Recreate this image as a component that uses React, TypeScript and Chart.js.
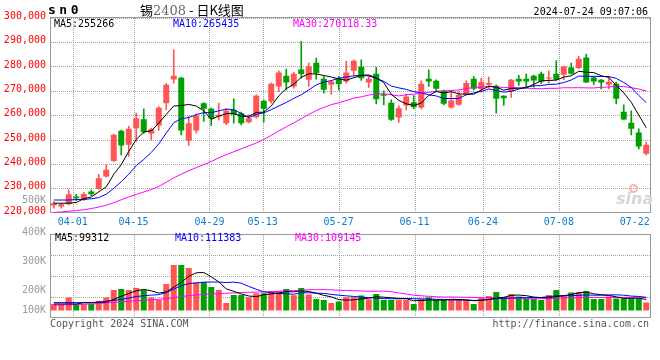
import React, { useEffect, useRef } from 'react';
import { Chart, registerables } from 'chart.js';

Chart.register(...registerables);

// ---------- data ----------
const dates = [
  '03-27', '03-28', '03-29', '04-01', '04-02', '04-03', '04-08', '04-09', '04-10', '04-11',
  '04-12', '04-15', '04-16', '04-17', '04-18', '04-19', '04-22', '04-23', '04-24', '04-25',
  '04-26', '04-29', '04-30', '05-06', '05-07', '05-08', '05-09', '05-10', '05-13', '05-14',
  '05-15', '05-16', '05-17', '05-20', '05-21', '05-22', '05-23', '05-24', '05-27', '05-28',
  '05-29', '05-30', '05-31', '06-03', '06-04', '06-05', '06-06', '06-07', '06-11', '06-12',
  '06-13', '06-14', '06-17', '06-18', '06-19', '06-20', '06-21', '06-24', '06-25', '06-26',
  '06-27', '06-28', '07-01', '07-02', '07-03', '07-04', '07-05', '07-08', '07-09', '07-10',
  '07-11', '07-12', '07-15', '07-16', '07-17', '07-18', '07-19', '07-22', '07-23', '07-24',
];

const tickDates = ['04-01', '04-15', '04-29', '05-13', '05-27', '06-11', '06-24', '07-08', '07-22'];
const gridlessTickDates = ['07-22'];

const opens = [
  222920, 222510, 223470, 226620, 225250, 228670, 229760, 234830, 241260, 253580,
  247830, 254680, 258380, 252490, 255780, 264950, 274670, 275350, 249610, 253720,
  264950, 262620, 259470, 256730, 262210, 260840, 257140, 259200, 265910, 265630,
  271790, 276170, 271790, 278770, 274530, 281510, 274940, 272480, 275210, 273850,
  278230, 279870, 273430, 276990, 268640, 265080, 259060, 263990, 265360, 263170,
  274940, 274120, 270010, 263170, 264260, 268640, 274940, 270700, 272480, 272070,
  267960, 269740, 274940, 274940, 276170, 276990, 275080, 276990, 276580, 279600,
  279320, 283700, 275490, 274530, 272480, 272890, 261390, 256870, 252900, 244140,
];
const highs = [
  224560, 223880, 229350, 227570, 228400, 229350, 235790, 239620, 252210, 253860,
  255500, 260840, 262620, 254680, 263580, 273020, 286850, 275620, 259470, 260570,
  265220, 262890, 264950, 262620, 266730, 261250, 260160, 268370, 266180, 273160,
  278230, 278910, 277540, 290300, 281380, 283430, 275900, 274120, 275900, 282060,
  282600, 282740, 275900, 279600, 270010, 266320, 263850, 268640, 268100, 274120,
  278640, 274530, 270290, 270010, 269740, 274120, 275900, 275210, 275620, 272480,
  268100, 274670, 276310, 276860, 276450, 277680, 278230, 282330, 280140, 281380,
  284110, 285070, 275900, 274670, 275620, 273570, 264260, 261800, 254410, 248930,
];
const lows = [
  221820, 221820, 223190, 224970, 224970, 227030, 229630, 234560, 240990, 243730,
  243040, 249200, 252490, 249890, 253720, 262210, 273160, 251940, 247560, 252630,
  257420, 255780, 258100, 256050, 256730, 256050, 256870, 258790, 257140, 264950,
  269740, 270420, 271110, 275210, 271790, 274800, 269050, 268640, 270420, 273160,
  276310, 274260, 271380, 264670, 264260, 257830, 257010, 262210, 262620, 262620,
  271790, 270010, 264260, 262890, 263990, 268370, 270420, 269470, 271110, 260840,
  263990, 267270, 272200, 271520, 271520, 272890, 273160, 274390, 274530, 276860,
  279050, 273300, 272480, 270830, 270830, 264670, 258100, 251940, 246190, 243730,
];
const closes = [
  223880, 223470, 227570, 225930, 227710, 227570, 234140, 237570, 251940, 247560,
  254410, 258790, 253040, 254270, 263030, 272480, 276170, 253720, 256730, 259730,
  262620, 258790, 260160, 261940, 260160, 256730, 258790, 267960, 262620, 272890,
  277540, 273430, 276990, 276860, 280000, 277270, 270420, 273850, 272750, 277540,
  282330, 275210, 274940, 266590, 267960, 258100, 262890, 267690, 263300, 272890,
  273850, 270830, 264670, 266050, 268370, 273160, 270830, 273570, 273160, 266730,
  267000, 274530, 273850, 273850, 274260, 273850, 275490, 274530, 280000, 276990,
  283160, 273430, 273850, 273430, 273710, 266730, 258240, 254410, 247150, 247830,
];
const volumes = [
  56000, 56000, 109200, 56000, 53200, 56000, 81200, 109200, 173600, 182000,
  173600, 190400, 173600, 109200, 89600, 224000, 383600, 383600, 358400, 235200,
  240800, 198800, 173600, 64400, 131600, 131600, 112000, 145600, 145600, 165200,
  165200, 182000, 128800, 190400, 134400, 98000, 89600, 64400, 75600, 112000,
  112000, 126000, 95200, 140000, 89600, 89600, 89600, 89600, 56000, 98000,
  109200, 89600, 89600, 89600, 89600, 89600, 56000, 106400, 123200, 156800,
  114800, 140000, 117600, 98000, 98000, 89600, 131600, 173600, 131600, 151200,
  156800, 165200, 98000, 98000, 117600, 100800, 100800, 100800, 100800, 67200,
];

// moving-average values before a full window is available
const priceMa5Head = [223900, 223900, 223900, 224200];
const priceMa10Head = [225200, 225200, 225200, 225400, 225500, 225700, 226200, 227600, 230000];
const priceMa30Head = [
  220100, 220300, 220600, 220900, 221200, 221700, 222300, 223100, 224100, 225300,
  226500, 227500, 228500, 229500, 230800, 232500, 234300, 235800, 237200, 238500,
  239700, 241000, 242500, 243800, 245000, 246200, 247400, 248600, 250000,
];
const volMa5Head = [56000, 56000, 56000, 56000];
const volMa10Head = [67200, 67200, 67200, 67200, 67200, 67200, 70000, 78400, 86800];
const volMa30Head = [
  46200, 47600, 49000, 50400, 53200, 56000, 60200, 64400, 68600, 74200,
  78400, 82600, 86800, 91000, 95200, 100800, 109200, 117600, 126000, 131600,
  135800, 140000, 142800, 145600, 148400, 151200, 154000, 155400, 156800,
];

const priceMin = 220000;
const priceMax = 300000;
const priceStep = 10000;
const volMin = -56000;
const volMax = 640000;

const volAxisLabels = ['500K', '400K', '300K', '200K', '100K'];
const priceLegend = ['MA5:255266', 'MA10:265435', 'MA30:270118.33'];
const volLegend = ['MA5:99312', 'MA10:111383', 'MA30:109145'];
const symbolText = 'sn0';
const titleName = '锡';
const titleCode = '2408';
const titleRest = ' - 日K线图';
const stampText = '2024-07-24 09:07:06';
const copyrightText = 'Copyright 2024 SINA.COM';
const urlText = 'http://finance.sina.com.cn';
const watermarkText = 'sina';

// ---------- styles ----------
const UP = '#ff5555';
const DOWN = '#00a000';
const GRID = '#a0a0a0';
const FRAME = '#999999';
const DATE_COLOR = '#0a7ecf';
const MA_COLORS = ['#000000', '#0000ff', '#ff00ff'];
const MONO = "'DejaVu Sans Mono', monospace";

Chart.defaults.font.family = MONO;
Chart.defaults.font.size = 10;

function movingAverage(values: number[], n: number, head: number[]): number[] {
  return values.map((_, i) => {
    if (i < n - 1) return head[i];
    let sum = 0;
    for (let k = i - n + 1; k <= i; k++) sum += values[k];
    return sum / n;
  });
}

export default function App() {
  const mainRef = useRef<HTMLCanvasElement>(null);
  const volRef = useRef<HTMLCanvasElement>(null);

  useEffect(() => {
    const colors = closes.map((c, i) => (c >= opens[i] ? UP : DOWN));
    const tickSet = new Set(tickDates);
    const gridIdx = tickDates
      .filter((d) => !gridlessTickDates.includes(d))
      .map((d) => dates.indexOf(d));

    // dotted grid (1px dots) + solid frame, drawn under the data
    const gridPlugin = {
      id: 'dotGridFrame',
      beforeDatasetsDraw(chart: any) {
        const { ctx, chartArea, scales } = chart;
        const l = Math.floor(chartArea.left);
        const r = Math.floor(chartArea.right);
        const t = Math.floor(chartArea.top);
        const b = Math.floor(chartArea.bottom);
        ctx.save();
        ctx.fillStyle = GRID;
        gridIdx.forEach((idx) => {
          const x = Math.round(scales.xg.getPixelForValue(idx));
          for (let y = t + 1; y < b; y += 2) ctx.fillRect(x, y, 1, 1);
        });
        scales.y.ticks.forEach((tk: any) => {
          const y = Math.round(scales.y.getPixelForValue(tk.value));
          if (y <= t || y >= b) return;
          for (let x = l + 1; x < r; x += 2) ctx.fillRect(x, y, 1, 1);
        });
        ctx.strokeStyle = FRAME;
        ctx.lineWidth = 1;
        ctx.strokeRect(l + 0.5, t + 0.5, r - l, b - t);
        ctx.restore();
      },
    };

    // a category axis without offset puts date i at left + i/(n-1) of the width
    const gridX = (showLabels: boolean) => ({
      type: 'category',
      labels: dates,
      position: 'bottom',
      offset: false,
      afterFit: (s: any) => {
        s.height = showLabels ? 17.3 : 0;
      },
      grid: { display: false, drawTicks: false },
      border: { display: false },
      ticks: {
        display: showLabels,
        autoSkip: false,
        maxRotation: 0,
        minRotation: 0,
        padding: 4,
        color: DATE_COLOR,
        font: { family: MONO, size: 10 },
        callback: (_v: any, idx: number) => (tickSet.has(dates[idx]) ? dates[idx] : ''),
      },
    });

    const lineDs = (data: number[], color: string) => ({
      type: 'line',
      data,
      borderColor: color,
      borderWidth: 1,
      pointRadius: 0,
      tension: 0,
      order: 0,
      xAxisID: 'x',
      yAxisID: 'y',
    });

    const main = new Chart(mainRef.current as HTMLCanvasElement, {
      type: 'bar',
      data: {
        labels: dates,
        datasets: [
          {
            type: 'bar',
            data: lows.map((l, i) => [l, highs[i]]),
            backgroundColor: colors,
            barThickness: 1,
            grouped: false,
            order: 2,
            xAxisID: 'x',
            yAxisID: 'y',
          },
          {
            type: 'bar',
            data: opens.map((o, i) => [Math.min(o, closes[i]), Math.max(o, closes[i])]),
            backgroundColor: colors,
            barPercentage: 0.8,
            categoryPercentage: 1,
            grouped: false,
            minBarLength: 1,
            order: 1,
            xAxisID: 'x',
            yAxisID: 'y',
          },
          lineDs(movingAverage(closes, 5, priceMa5Head), MA_COLORS[0]),
          lineDs(movingAverage(closes, 10, priceMa10Head), MA_COLORS[1]),
          lineDs(movingAverage(closes, 30, priceMa30Head), MA_COLORS[2]),
        ] as any,
      },
      options: {
        responsive: false,
        animation: false,
        layout: { padding: { top: 17.7, right: 10, left: 0, bottom: 0 } },
        plugins: { legend: { display: false }, tooltip: { enabled: false } },
        scales: {
          x: { type: 'category', display: false, offset: true },
          xg: gridX(true) as any,
          y: {
            type: 'linear',
            position: 'left',
            min: priceMin,
            max: priceMax,
            afterFit: (s: any) => {
              s.width = 50;
            },
            ticks: {
              stepSize: priceStep,
              color: '#ff0000',
              padding: 4,
              labelOffset: -1.5,
              font: { family: MONO, size: 10 },
            },
            grid: { display: false, drawTicks: false },
            border: { display: false },
          },
        },
      } as any,
      plugins: [gridPlugin],
    });

    const vol = new Chart(volRef.current as HTMLCanvasElement, {
      type: 'bar',
      data: {
        labels: dates,
        datasets: [
          {
            type: 'bar',
            data: volumes,
            backgroundColor: colors,
            barPercentage: 0.8,
            categoryPercentage: 1,
            order: 1,
            xAxisID: 'x',
            yAxisID: 'y',
          },
          lineDs(movingAverage(volumes, 5, volMa5Head), MA_COLORS[0]),
          lineDs(movingAverage(volumes, 10, volMa10Head), MA_COLORS[1]),
          lineDs(movingAverage(volumes, 30, volMa30Head), MA_COLORS[2]),
        ] as any,
      },
      options: {
        responsive: false,
        animation: false,
        layout: { padding: { top: 6.3, right: 10, left: 0, bottom: 10.7 } },
        plugins: { legend: { display: false }, tooltip: { enabled: false } },
        scales: {
          x: { type: 'category', display: false, offset: true },
          xg: gridX(false) as any,
          y: {
            type: 'linear',
            position: 'left',
            min: volMin,
            max: volMax,
            afterFit: (s: any) => {
              s.width = 50;
            },
            ticks: { display: false, count: 5 },
            grid: { display: false, drawTicks: false },
            border: { display: false },
          },
        },
      } as any,
      plugins: [gridPlugin],
    });

    return () => {
      main.destroy();
      vol.destroy();
    };
  }, []);

  const text = (extra: React.CSSProperties): React.CSSProperties => ({
    position: 'absolute',
    whiteSpace: 'nowrap',
    fontFamily: MONO,
    fontSize: 10,
    lineHeight: '12px',
    ...extra,
  });

  const volLabelCenters = [200, 231.5, 261, 290, 310];

  return (
    <div
      style={{
        position: 'absolute',
        left: 0,
        top: 0,
        width: 660,
        height: 360,
        background: '#ffffff',
        overflow: 'hidden',
      }}
    >
      <canvas ref={mainRef} width={660} height={230} style={{ position: 'absolute', left: 0, top: 0 }} />
      <canvas ref={volRef} width={660} height={100} style={{ position: 'absolute', left: 0, top: 228 }} />

      <div style={text({ left: 48, top: 3, fontSize: 13, lineHeight: '14px', fontWeight: 'bold', letterSpacing: '3.5px', color: '#000' })}>
        {symbolText}
      </div>
      <div style={text({ left: 140, top: 2, fontSize: 13, lineHeight: '15px', fontFamily: "'Noto Sans CJK SC', sans-serif", color: '#000' })}>
        {titleName}
        <span style={{ color: '#666', fontFamily: "'DejaVu Serif', serif" }}>{titleCode}</span>
        {titleRest}
      </div>
      <div style={text({ right: 12, top: 5.5, color: '#000' })}>{stampText}</div>

      <div style={text({ left: 54, top: 18, color: MA_COLORS[0] })}>{priceLegend[0]}</div>
      <div style={text({ left: 173, top: 18, color: MA_COLORS[1] })}>{priceLegend[1]}</div>
      <div style={text({ left: 293, top: 18, color: MA_COLORS[2] })}>{priceLegend[2]}</div>

      <div style={text({ left: 55, top: 232, color: MA_COLORS[0] })}>{volLegend[0]}</div>
      <div style={text({ left: 175, top: 232, color: MA_COLORS[1] })}>{volLegend[1]}</div>
      <div style={text({ left: 295, top: 232, color: MA_COLORS[2] })}>{volLegend[2]}</div>

      {volAxisLabels.map((lab, i) => (
        <div key={lab} style={text({ right: 614, top: volLabelCenters[i] - 6, color: '#999', textAlign: 'right' })}>
          {lab}
        </div>
      ))}

      <div
        style={{
          position: 'absolute',
          left: 629,
          top: 184,
          width: 9,
          height: 9,
          borderRadius: '50%',
          border: '2px solid #f2b8b8',
          boxSizing: 'border-box',
        }}
      />
      <div
        style={text({
          left: 616,
          top: 190,
          fontSize: 16,
          lineHeight: '18px',
          fontFamily: "'DejaVu Sans', sans-serif",
          fontStyle: 'italic',
          fontWeight: 'bold',
          color: '#d6d6d6',
        })}
      >
        {watermarkText}
      </div>

      <div style={text({ left: 50, top: 318, color: '#555' })}>{copyrightText}</div>
      <div style={text({ right: 11, top: 318, color: '#555' })}>{urlText}</div>
    </div>
  );
}
